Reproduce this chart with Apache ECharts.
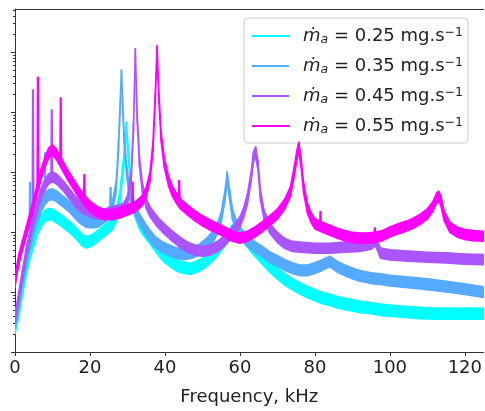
<!DOCTYPE html>
<html><head><meta charset="utf-8">
<script src="https://cdn.jsdelivr.net/npm/echarts@6/dist/echarts.min.js"></script>
<style>html,body{margin:0;padding:0;background:#fff}#c{width:485px;height:411px}</style>
</head><body><div id="c"></div><script>
// x tick labels (kHz)
const xTicks = [0, 20, 40, 60, 80, 100, 120];
// y decades (log10) for major ticks, multipliers for minor ticks
const yDecades = [0, 1, 2, 3, 4, 5];
const minorMultipliers = [2, 3, 4, 5, 6, 7, 8, 9];
const massFlow = ['0.25', '0.35', '0.45', '0.55'];
const colors = ['#00ffff', '#55aaff', '#aa55ff', '#ff00ff'];

// spectra (centre of the noisy trace): [frequency kHz, log10 amplitude]
const psd025 = [[0,0.39],[0.5,0.54],[1,0.67],[2,1.05],[3,1.37],[4,1.65],[5,1.86],[6,2.06],[7,2.19],[8,2.27],[9,2.30],[10,2.29],[11,2.25],[12,2.21],[13,2.16],[14,2.11],[15,2.06],[16,2.00],[17,1.93],[18,1.86],[19,1.83],[20,1.85],[21,1.88],[22,1.93],[23,1.98],[24,2.03],[25,2.08],[26,2.14],[27,2.27],[28,2.60],[29,3.17],[29.7,3.75],[30.4,3.17],[31,2.68],[32,2.35],[33,2.17],[34,2.06],[35,1.98],[36,1.90],[37,1.81],[38,1.73],[39,1.65],[40,1.58],[41,1.54],[42,1.49],[43,1.45],[44,1.42],[45,1.41],[46,1.39],[47,1.39],[48,1.41],[49,1.44],[50,1.47],[51,1.52],[52,1.57],[53,1.63],[54,1.70],[55,1.78],[56,1.86],[57,1.94],[58,2.03],[59,2.06],[60,2.00],[61,1.92],[62,1.84],[63,1.76],[64,1.69],[65,1.62],[66,1.56],[68,1.42],[70,1.31],[72,1.21],[74,1.13],[76,1.06],[78,1.00],[80,0.95],[82,0.90],[84,0.87],[86,0.83],[88,0.80],[90,0.78],[92,0.75],[94,0.74],[96,0.72],[98,0.70],[100,0.69],[104,0.67],[108,0.65],[112,0.64],[116,0.64],[120,0.64],[125,0.64]];
const psd035 = [[0,0.47],[0.5,0.64],[1,0.83],[2,1.21],[3,1.54],[4,1.81],[5,2.06],[6,2.27],[7,2.43],[8,2.55],[9,2.62],[10,2.63],[11,2.60],[12,2.55],[13,2.50],[14,2.45],[15,2.39],[16,2.32],[17,2.25],[18,2.21],[19,2.17],[20,2.16],[21,2.16],[22,2.17],[23,2.21],[24,2.25],[25,2.32],[26,2.43],[27,2.76],[27.6,3.42],[28.4,4.62],[29.1,3.58],[29.8,3.01],[30.5,2.68],[31.5,2.43],[33,2.24],[35,2.03],[37,1.86],[39,1.76],[41,1.70],[43,1.65],[45,1.63],[47,1.65],[49,1.70],[51,1.80],[53,1.94],[54,2.06],[55,2.24],[56,2.60],[56.6,2.92],[57.3,2.60],[58,2.30],[59,2.11],[60,1.98],[62,1.85],[64,1.75],[66,1.67],[68,1.58],[70,1.52],[72,1.45],[74,1.40],[76,1.36],[78,1.36],[80,1.40],[82,1.45],[84,1.51],[86,1.42],[88,1.36],[90,1.31],[92,1.27],[95,1.23],[98,1.21],[100,1.19],[105,1.16],[110,1.13],[115,1.09],[120,1.05],[125,1.00]];
const psd045 = [[0,0.56],[0.5,0.72],[1,0.92],[2,1.29],[3,1.65],[4,1.94],[5,2.21],[6,2.45],[7,2.65],[8,2.79],[9,2.89],[10,2.92],[11,2.89],[12,2.83],[13,2.76],[14,2.68],[15,2.60],[16,2.52],[17,2.45],[18,2.40],[19,2.37],[20,2.34],[22,2.30],[24,2.30],[26,2.34],[28,2.37],[29,2.40],[30,2.52],[31,2.92],[31.6,3.74],[32.1,4.98],[32.6,3.91],[33.2,3.17],[34,2.73],[35,2.48],[36,2.34],[38,2.17],[40,2.04],[42,1.93],[44,1.83],[46,1.75],[48,1.70],[50,1.68],[52,1.70],[54,1.76],[56,1.86],[58,2.00],[60,2.17],[61,2.32],[62,2.55],[63,2.92],[63.6,3.25],[64.2,3.34],[64.8,3.12],[65.5,2.60],[66.5,2.27],[68,2.06],[70,1.91],[72,1.81],[74,1.76],[76,1.75],[80,1.73],[84,1.73],[88,1.75],[92,1.76],[95,1.80],[96.2,1.85],[97.5,1.65],[100,1.62],[105,1.60],[110,1.58],[115,1.57],[120,1.55],[125,1.54]];
const psd055 = [[0,1.16],[0.5,1.36],[1,1.54],[2,1.78],[3,2.01],[4,2.24],[5,2.48],[6,2.73],[7,2.97],[8,3.17],[9,3.32],[10,3.37],[11,3.30],[12,3.19],[13,3.07],[14,2.96],[15,2.86],[16,2.76],[17,2.66],[18,2.58],[19,2.50],[20,2.43],[22,2.34],[24,2.29],[26,2.29],[28,2.32],[30,2.37],[32,2.42],[33,2.47],[34,2.53],[35,2.66],[36,2.92],[36.8,3.42],[37.4,4.23],[37.9,5.03],[38.4,4.23],[39,3.58],[39.8,3.17],[41,2.84],[42,2.68],[43,2.57],[44,2.48],[46,2.37],[48,2.27],[50,2.19],[52,2.12],[54,2.06],[56,2.00],[58,1.93],[60,1.90],[62,1.93],[64,2.00],[66,2.09],[68,2.19],[70,2.30],[72,2.47],[73.5,2.68],[74.5,3.01],[75.2,3.28],[75.7,3.42],[76.3,3.17],[77,2.73],[78,2.40],[79,2.24],[80,2.14],[82,2.08],[84,2.03],[86,1.98],[88,1.94],[90,1.91],[92,1.90],[94,1.90],[96,1.91],[98,1.94],[100,2.00],[102,2.05],[104,2.09],[106,2.14],[108,2.21],[110,2.30],[111.5,2.43],[112.5,2.57],[113,2.60],[113.6,2.52],[114.5,2.27],[116,2.08],[118,2.00],[120,1.96],[122,1.94],[125,1.93]];
// half-width of the noise band of each trace, in decades
const noiseHalf = [0.095, 0.09, 0.085, 0.085];

// narrow spectral lines: [frequency kHz, log10 base, log10 top]
const spikes025 = [[26.2,2.15,2.45]];
const spikes035 = [[4.0,1.80,2.84],[8.0,2.55,3.33],[25.5,2.32,2.75]];
const spikes045 = [[4.8,2.15,4.38],[9.8,2.92,4.05]];
const spikes055 = [[6.1,2.70,4.59],[12.2,3.19,4.25],[18.5,2.58,2.97],[31.4,2.40,2.84],[43.8,2.48,2.87],[81.5,2.10,2.35],[96,1.91,2.08]];

const YMAX_LOG = 5.72;
const allPsd = [psd025, psd035, psd045, psd055];
const allSpikes = [spikes025, spikes035, spikes045, spikes055];
const toVal = e => Math.pow(10, e);

const series = [];
allPsd.forEach((d, i) => {
  const h = noiseHalf[i];
  const segs = [];
  for (let j = 0; j < d.length - 1; j++) {
    const a = d[j], b = d[j + 1];
    segs.push([a[0], toVal(a[1] - h), toVal(a[1] + h), b[0], toVal(b[1] - h), toVal(b[1] + h)]);
  }
  const col = colors[i];
  series.push({
    name: massFlow[i], type: 'custom', coordinateSystem: 'cartesian2d',
    data: segs, clip: true, silent: true, z: 2 + i,
    encode: { x: [0, 3], y: [1, 2, 4, 5] },
    itemStyle: { color: col },
    renderItem: (params, api) => {
      const p0lo = api.coord([api.value(0), api.value(1)]);
      const p0hi = api.coord([api.value(0), api.value(2)]);
      const p1lo = api.coord([api.value(3), api.value(4)]);
      const p1hi = api.coord([api.value(3), api.value(5)]);
      return {
        type: 'polygon',
        shape: { points: [p0lo, p1lo, p1hi, p0hi] },
        style: { fill: col, stroke: col, lineWidth: 1.5, lineJoin: 'bevel' }
      };
    }
  });
});
allSpikes.forEach((sp, i) => {
  sp.forEach(s => {
    series.push({
      name: 'line' + i, type: 'line', showSymbol: false, symbol: 'none',
      data: [[s[0] - 0.12, toVal(s[1])], [s[0], toVal(s[2])], [s[0] + 0.12, toVal(s[1])]],
      lineStyle: { width: 2.2, color: colors[i] },
      z: 2 + i, silent: true
    });
  });
});

const minorTicks = [];
yDecades.forEach(k => minorMultipliers.forEach(m => {
  const v = k + Math.log10(m);
  if (v <= YMAX_LOG) minorTicks.push(v);
}));

const axisColor = '#333';
const font = 'DejaVu Sans';
const chart = echarts.init(document.getElementById('c'), null, { renderer: 'canvas' });
chart.setOption({
  animation: false,
  backgroundColor: '#fff',
  color: colors,
  grid: { left: 15, right: 0, top: 9, bottom: 52 },
  legend: {
    data: massFlow,
    orient: 'vertical', left: 244, top: 18,
    padding: [8, 5, 7, 8], itemGap: 10,
    itemWidth: 37, itemHeight: 2, icon: 'rect',
    backgroundColor: 'rgba(255,255,255,0.85)', borderColor: '#cccccc', borderWidth: 1, borderRadius: 4,
    formatter: n => '{m|ṁ}{s|a}{t| = ' + n + ' mg.s}{p|−1}',
    textStyle: {
      padding: [0, 0, 0, 9],
      rich: {
        m: { fontFamily: font, fontStyle: 'italic', fontSize: 18, lineHeight: 20, color: '#222' },
        s: { fontFamily: font, fontStyle: 'italic', fontSize: 12.5, lineHeight: 11, verticalAlign: 'bottom', color: '#222' },
        t: { fontFamily: font, fontSize: 18, lineHeight: 20, color: '#222' },
        p: { fontFamily: font, fontSize: 12.5, lineHeight: 11, verticalAlign: 'top', color: '#222' }
      }
    }
  },
  xAxis: [{
    type: 'value', min: 0, max: 125, interval: 20, position: 'bottom',
    axisLine: { show: true, onZero: false, lineStyle: { color: axisColor, width: 1 } },
    axisTick: { show: true, length: 4, customValues: xTicks, lineStyle: { color: axisColor } },
    axisLabel: { fontFamily: font, fontSize: 18, color: '#222', margin: 7, customValues: xTicks },
    splitLine: { show: false },
    name: 'Frequency, kHz', nameLocation: 'middle', nameGap: 36,
    nameTextStyle: { fontFamily: font, fontSize: 18, color: '#222' }
  }, {
    type: 'value', min: 0, max: 125, position: 'top',
    axisLine: { show: true, onZero: false, lineStyle: { color: axisColor, width: 1 } },
    axisTick: { show: false }, axisLabel: { show: false }, splitLine: { show: false }
  }],
  yAxis: [{
    type: 'log', logBase: 10, min: 1, max: toVal(YMAX_LOG), position: 'left',
    axisLine: { show: true, onZero: false, lineStyle: { color: axisColor, width: 1 } },
    axisTick: { show: false }, axisLabel: { show: false }, splitLine: { show: false }, minorTick: { show: false }
  }, {
    type: 'value', min: 0, max: YMAX_LOG, position: 'left',
    axisLine: { show: false },
    axisTick: { show: true, length: 4, customValues: yDecades, lineStyle: { color: axisColor } },
    axisLabel: { show: false, customValues: yDecades }, splitLine: { show: false }
  }, {
    type: 'value', min: 0, max: YMAX_LOG, position: 'left',
    axisLine: { show: false },
    axisTick: { show: true, length: 2, customValues: minorTicks, lineStyle: { color: axisColor } },
    axisLabel: { show: false, customValues: minorTicks }, splitLine: { show: false }
  }],
  series: series
});
</script></body></html>
